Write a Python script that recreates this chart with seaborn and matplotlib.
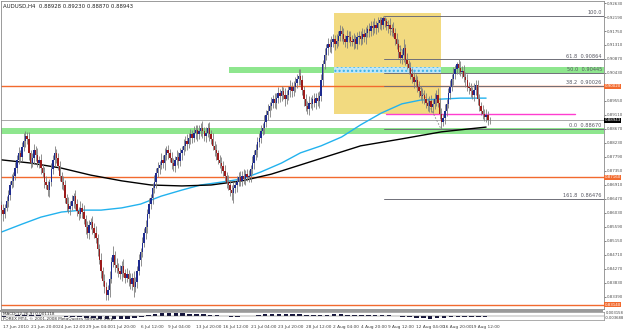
import matplotlib
matplotlib.use("Agg")
import matplotlib.pyplot as plt
from matplotlib.patches import Rectangle
import numpy as np
import pandas as pd
import seaborn as sns

# ---------------- data (prices in pips above 0.80000) ----------------
title_text = "AUDUSD,H4  0.88928 0.89230 0.88870 0.88943"
first_open = 628
closes = [
    612, 600, 620, 640, 660, 690, 705,
    720, 745, 770, 790, 780, 810, 830, 845, 835,
    790, 760, 775, 800, 785, 760, 770, 745,
    730, 700, 690, 675, 700,
    740, 770, 790, 775,
    750, 720, 700, 690,
    650, 630, 615, 625, 640,
    655, 630, 610, 600, 620, 605,
    585, 560, 540, 565,
    575, 555, 540, 525,
    490, 455, 420, 390,
    370, 345, 360, 395,
    450, 470, 440, 430,
    420, 410, 435, 415, 400, 410,
    395, 380, 400, 370, 385,
    420, 455, 480, 510, 540,
    560, 600, 630, 650,
    680, 700, 730, 745, 755,
    770, 760, 785, 800, 790, 775,
    760, 750, 770, 780, 765, 790, 800,
    815, 830, 820, 840, 850,
    840, 855, 865, 850, 860,
    870, 860, 845, 855, 870, 850, 835,
    815, 800, 790, 770, 760, 750,
    735, 720, 700, 690, 675, 665, 680,
    690, 700, 715, 705, 720,
    710, 725, 715, 720, 740, 760, 785,
    800, 825, 840, 860, 870,
    890, 910, 925, 940, 950, 960,
    950, 965, 980, 970, 985, 975,
    960, 975, 990, 1000, 985, 1000,
    1010, 1025, 1035, 1020,
    990, 960, 940, 930, 950, 945,
    960, 950, 965, 955, 970,
    1020, 1070, 1100, 1120,
    1135, 1125, 1140, 1150, 1135, 1145,
    1160, 1175, 1165, 1150, 1140, 1160, 1155, 1145,
    1140, 1150, 1135, 1155, 1160, 1150,
    1165, 1155, 1170, 1180, 1175, 1190, 1185, 1195, 1185,
    1200, 1210, 1195, 1215, 1205, 1190,
    1195, 1180, 1185, 1170,
    1150, 1135, 1110, 1090, 1100,
    1120, 1085,
    1070, 1060, 1040, 1030, 1015, 1020,
    1000, 985, 970, 975, 960, 950,
    940, 955, 935, 945,
    960, 975, 950, 915, 890,
    900, 925, 945,
    980, 1000, 1025, 1040,
    1055, 1070, 1060,
    1045, 1050, 1030, 1020,
    1000, 995, 985,
    975, 990, 1005,
    960, 940, 925,
    915, 905, 910, 895, 894,
]
upper_wicks = [
    14, 20, 10, 16, 15, 12, 22, 13, 18, 15,
    20, 12, 16, 24, 15, 13, 21, 10, 16, 20,
    15, 22, 13, 18, 12, 16, 20, 15, 10, 21,
    16, 24, 13, 18, 15, 12, 20, 16, 13, 22,
    15, 18, 10, 21, 16, 13, 20, 15, 24, 12,
    18, 16, 13, 20, 15, 22, 12, 16, 21, 13,
    20, 15, 18, 25, 16, 28, 13, 20, 15, 18,
    16, 22, 12, 20, 15, 18, 13, 21, 16, 15,
    20, 13, 18, 16, 22, 15, 20, 13, 16, 21,
    15, 18, 12, 20, 16, 22, 13, 18, 15, 20,
    16, 13, 21, 15, 18, 12, 20, 16, 22, 13,
    18, 15, 20, 13, 16, 21, 15, 22, 12, 18,
    16, 20, 13, 18, 15, 21, 12, 16, 20, 15,
    18, 13, 22, 16, 15, 20, 13, 18, 16, 21,
    15, 20, 12, 16, 18, 13, 21, 15, 20, 16,
    13, 18, 15, 22, 16, 20, 13, 18, 15, 21,
    16, 20, 13, 18, 15, 22, 16, 13, 20, 15,
    18, 21, 15, 20, 20, 16, 13, 18, 15, 20,
    16, 13, 21, 15, 18, 16, 20, 15, 22, 13,
    18, 15, 20, 16, 13, 21, 15, 18, 16, 20,
    13, 18, 15, 21, 16, 20, 13, 18, 15, 16,
    20, 15, 18, 13, 21, 16, 15, 20, 13, 18,
    10, 10, 7, 5, 10, 15, 21, 13, 18, 16,
    20, 15, 22, 18, 30, 15, 20, 13, 16, 18,
    15, 20, 13, 18, 16, 21, 15, 20, 13, 16,
    18, 15, 21, 16, 20, 13, 18, 15, 20, 16,
    15, 20, 16, 22, 12, 8, 16, 20, 15, 18,
    16, 21, 15, 18, 13, 20, 16, 15, 18, 13,
    16, 15, 20, 13, 10,
]
lower_wicks = [
    16, 22, 13, 12, 18, 15, 10, 20, 13, 16,
    12, 18, 15, 13, 20, 16, 21, 15, 12, 18,
    20, 13, 16, 21, 15, 18, 12, 20, 22, 13,
    15, 20, 16, 13, 18, 21, 15, 16, 20, 12,
    18, 13, 21, 16, 15, 20, 12, 18, 16, 22,
    15, 20, 13, 18, 16, 15, 21, 13, 20, 16,
    18, 16, 15, 20, 13, 16, 21, 15, 18, 16,
    20, 13, 18, 15, 22, 16, 20, 30, 15, 18,
    13, 20, 16, 15, 18, 21, 13, 16, 20, 15,
    18, 15, 20, 13, 16, 21, 15, 18, 13, 20,
    15, 18, 16, 20, 13, 21, 15, 16, 18, 13,
    20, 16, 15, 18, 21, 13, 16, 20, 15, 18,
    13, 20, 16, 15, 18, 21, 13, 16, 20, 15,
    16, 20, 15, 18, 22, 30, 15, 20, 13, 16,
    18, 15, 20, 13, 16, 21, 15, 18, 16, 20,
    15, 18, 13, 20, 16, 15, 21, 13, 18, 16,
    20, 15, 18, 16, 13, 20, 15, 18, 21, 16,
    15, 18, 13, 20, 16, 15, 21, 18, 16, 20,
    13, 18, 15, 20, 16, 21, 15, 18, 13, 16,
    20, 15, 18, 16, 21, 13, 18, 15, 20, 16,
    15, 20, 16, 18, 13, 21, 15, 16, 20, 18,
    16, 13, 20, 15, 18, 16, 21, 15, 18, 13,
    20, 16, 15, 18, 13, 20, 16, 21, 15, 18,
    16, 20, 15, 18, 21, 16, 13, 20, 15, 18,
    20, 15, 18, 16, 13, 21, 15, 18, 16, 20,
    15, 18, 16, 20, 13, 16, 23, 15, 18, 16,
    13, 18, 15, 20, 16, 15, 21, 13, 18, 16,
    20, 15, 18, 16, 13, 20, 15, 18, 16, 15,
    18, 13, 16, 15, 10,
]
blue_ma_bars = [0, 12, 23, 35, 47, 58, 70, 81, 93, 105, 116, 128, 140, 151, 163, 174,
                186, 198, 209, 221, 233, 244, 256, 267, 282]
blue_ma_vals = [543, 568, 590, 606, 612, 612, 619, 631, 656, 675, 691, 700, 710, 732, 760,
                792, 814, 842, 880, 917, 946, 958, 961, 964, 964]
black_ma_bars = [0, 17, 35, 52, 70, 87, 105, 122, 140, 157, 174, 192, 209, 233, 256, 282]
black_ma_vals = [770, 760, 744, 722, 704, 691, 688, 691, 704, 725, 754, 785, 814, 836, 858, 873]
macd_hist = [-10, 5, 15, 20, 12, 8, 0, 2, -2, -12, -15, -18, -22, -28, -40, -48, -40, -35,
             -35, -32, -15, 10, 30, 42, 45, 42, 35, 32, 30, 28, 20, 10, -5, -12, -10, -5,
             5, 15, 25, 28, 30, 28, 26, 22, 15, 10, 12, 20, 24, 22, 20, 18, 16, 15, 14,
             14, 10, 2, -8, -18, -26, -32, -35, -34, -28, -20, -14, -12, -14, -18, -20]
date_labels = ["17 Jun 2010", "21 Jun 20:00", "24 Jun 12:00", "29 Jun 04:00", "1 Jul 20:00",
               "6 Jul 12:00", "9 Jul 04:00", "13 Jul 20:00", "16 Jul 12:00", "21 Jul 04:00",
               "23 Jul 20:00", "28 Jul 12:00", "2 Aug 04:00", "4 Aug 20:00", "9 Aug 12:00",
               "12 Aug 04:00", "16 Aug 20:00", "19 Aug 12:00"]
date_label_bars = [1, 17, 33, 49, 65, 81, 97, 113, 129, 145, 161, 177, 193, 209, 225, 241, 257, 273]
price_ticks = [0.92630, 0.92190, 0.91750, 0.91310, 0.90870, 0.90430, 0.89990, 0.89550,
               0.89110, 0.88670, 0.88230, 0.87790, 0.87350, 0.86910, 0.86470, 0.86030,
               0.85590, 0.85150, 0.84710, 0.84270, 0.83830, 0.83390]
fib_names = ["100.0", "61.8", "50.0", "38.2", "0.0", "161.8"]
fib_prices = [0.92220, 0.90864, 0.90445, 0.90026, 0.88670, 0.86476]
red_levels = [0.90020, 0.87160, 0.83140]
bid_price = 0.88943
magenta_level = 0.89140
green_zone_upper = (0.90430, 0.90620)
green_zone_lower = (0.88510, 0.88700)
box_bars = (193.6, 255.8)
box_prices = (0.89140, 0.92320)
hatch_prices = (0.90430, 0.90620)
fib_start_bar = 222.7
fib_end_bar = 255.8
upper_zone_start_bar = 132.6
magenta_bars = (223.8, 334.0)

# ---------------- derived OHLC ----------------
def px(v):
    return 0.8 + np.asarray(v, dtype=float) / 10000.0

c = np.array(closes, dtype=float)
o = np.concatenate([[first_open], c[:-1]])
h = np.maximum(o, c) + np.array(upper_wicks)
l = np.minimum(o, c) - np.array(lower_wicks)
bars = np.arange(len(c))
df = pd.DataFrame({"bar": bars, "open": px(o), "high": px(h), "low": px(l), "close": px(c)})

sns.set_theme(style="white")
plt.rcParams["font.family"] = ["DejaVu Sans"]

W, H = 625, 330
AXW = 603
fig = plt.figure(figsize=(6.25, 3.3), dpi=100, facecolor="white")
XL = (-0.5, 350.3)
YL = (0.83012, 0.92693)

ax = fig.add_axes([0.5 / W, 1 - 309 / H, AXW / W, 308 / H])
ax.set_xlim(*XL)
ax.set_ylim(*YL)
ax.set_facecolor("white")

# yellow rectangle and hatched strip
ax.add_patch(Rectangle((box_bars[0], box_prices[0]), box_bars[1] - box_bars[0],
                       box_prices[1] - box_prices[0], facecolor="#f2da80", edgecolor="none", zorder=0.5))
# green zones
ax.add_patch(Rectangle((upper_zone_start_bar, green_zone_upper[0]), XL[1] - upper_zone_start_bar,
                       green_zone_upper[1] - green_zone_upper[0], facecolor="#8ee68e", edgecolor="none", zorder=0.6))
ax.add_patch(Rectangle((XL[0], green_zone_lower[0]), XL[1] - XL[0],
                       green_zone_lower[1] - green_zone_lower[0], facecolor="#8ee68e", edgecolor="none", zorder=0.6))
ax.add_patch(Rectangle((box_bars[0], hatch_prices[0]), box_bars[1] - box_bars[0],
                       hatch_prices[1] - hatch_prices[0], facecolor="#bfe6f7", edgecolor="#36b0e8",
                       hatch="....", linewidth=0, zorder=0.7))

# horizontal lines
for lv in red_levels:
    ax.axhline(lv, color="#f26a2e", lw=1.0, zorder=1)
ax.axhline(bid_price, color="#a8a8a8", lw=0.7, zorder=1)
ax.plot(magenta_bars, [magenta_level] * 2, color="#ff3dd0", lw=1.0, zorder=1)
for nm, fp in zip(fib_names, fib_prices):
    ax.plot([fib_start_bar, XL[1]], [fp, fp], color="#6f6f78", lw=0.7, zorder=1.1)
    lab = nm if nm == "100.0" else f"{nm}  {fp:.5f}"
    ax.text(XL[1] - 1.0, fp + 0.0002, lab, fontsize=3.6, color="#555560", ha="right", va="bottom", zorder=5)
ax.plot([fib_start_bar, fib_end_bar], [fib_prices[0], fib_prices[4]], color="#808080",
        lw=0.6, ls=(0, (2, 2)), zorder=1.1)

# moving averages
sns.lineplot(x=blue_ma_bars, y=px(blue_ma_vals), ax=ax, color="#22b2ee", lw=1.0, zorder=2)
sns.lineplot(x=black_ma_bars, y=px(black_ma_vals), ax=ax, color="#000000", lw=1.0, zorder=2)

# candles
up = df["close"] >= df["open"]
ax.vlines(df["bar"], df["low"], df["high"], color="#7d7d7d", lw=0.6, zorder=3)
body_h = (df["close"] - df["open"]).abs().clip(lower=0.00008)
ax.bar(df["bar"][up], body_h[up], bottom=df["open"][up], width=0.8,
       color="#1d2a8f", edgecolor="none", zorder=4)
ax.bar(df["bar"][~up], body_h[~up], bottom=df["close"][~up], width=0.8,
       color="#9c1b1b", edgecolor="none", zorder=4)

# axes styling
box_levels = red_levels + [bid_price]
shown = [t for t in price_ticks if min(abs(t - b) for b in box_levels) > 0.001]
ax.set_xticks([])
ax.yaxis.tick_right()
ax.set_yticks(shown)
ax.set_yticklabels([f"{t:.5f}" for t in shown])
ax.tick_params(axis="y", labelsize=2.9, colors="#505050", length=1.5, width=0.5, pad=0.6)
for s in ax.spines.values():
    s.set_color("#8a8a8a")
    s.set_linewidth(0.6)
ax.grid(False)
ax.text(0.004, 0.992, title_text, transform=ax.transAxes, fontsize=3.9, color="#202020",
        ha="left", va="top")

# right-side price boxes
def price_box(y, txt, fc):
    ax.text(1.002, y, txt, transform=ax.get_yaxis_transform(), fontsize=2.9, color="white",
            ha="left", va="center", zorder=6,
            bbox=dict(boxstyle="square,pad=0.12", facecolor=fc, edgecolor="none"))

for lv in red_levels:
    price_box(lv, f"{lv:.5f}", "#f26a2e")
price_box(bid_price, f"{bid_price:.5f}", "#000000")

# separator strip
fig.patches.append(Rectangle((0, 1 - 312 / H), AXW / W, 2.5 / H, transform=fig.transFigure,
                             facecolor="#9a9a9a", edgecolor="none"))

# MACD subwindow
sub = fig.add_axes([0.5 / W, 1 - 320 / H, AXW / W, 8 / H])
sub.set_xlim(*XL)
sub.set_ylim(-55, 55)
blk_x = np.arange(len(macd_hist)) * 4 + 1.5
sub.bar(blk_x, macd_hist, width=2.6, color="#14143c", edgecolor="none")
sub.axhline(0, color="#505050", lw=0.3)
sub.set_yticks([])
sub.set_xticks(date_label_bars)
sub.set_xticklabels(date_labels)
sub.tick_params(axis="x", labelsize=3.1, colors="#404040", length=2, width=0.5, pad=1.5)
for t in sub.get_xticklabels():
    t.set_ha("left")
for s in sub.spines.values():
    s.set_color("#8a8a8a")
    s.set_linewidth(0.5)
sub.text(0.004, 1.0, "MACD(12,26,9) 0.001118", transform=sub.transAxes, fontsize=3.0,
         color="#303030", ha="left", va="top")
sub.text(0.004, 0.35, "FOREX MT4, \u00a9 2001-2008 MetaQuotes Software Corp.", transform=sub.transAxes,
         fontsize=3.0, color="#303030", ha="left", va="top")
sub.text(1.003, 0.85, "0.003158", transform=sub.transAxes, fontsize=2.7, color="#404040",
         ha="left", va="center")
sub.text(1.003, 0.25, "-0.003688", transform=sub.transAxes, fontsize=2.7, color="#404040",
         ha="left", va="center")

fig.savefig("out.png", dpi=100, facecolor="white")
